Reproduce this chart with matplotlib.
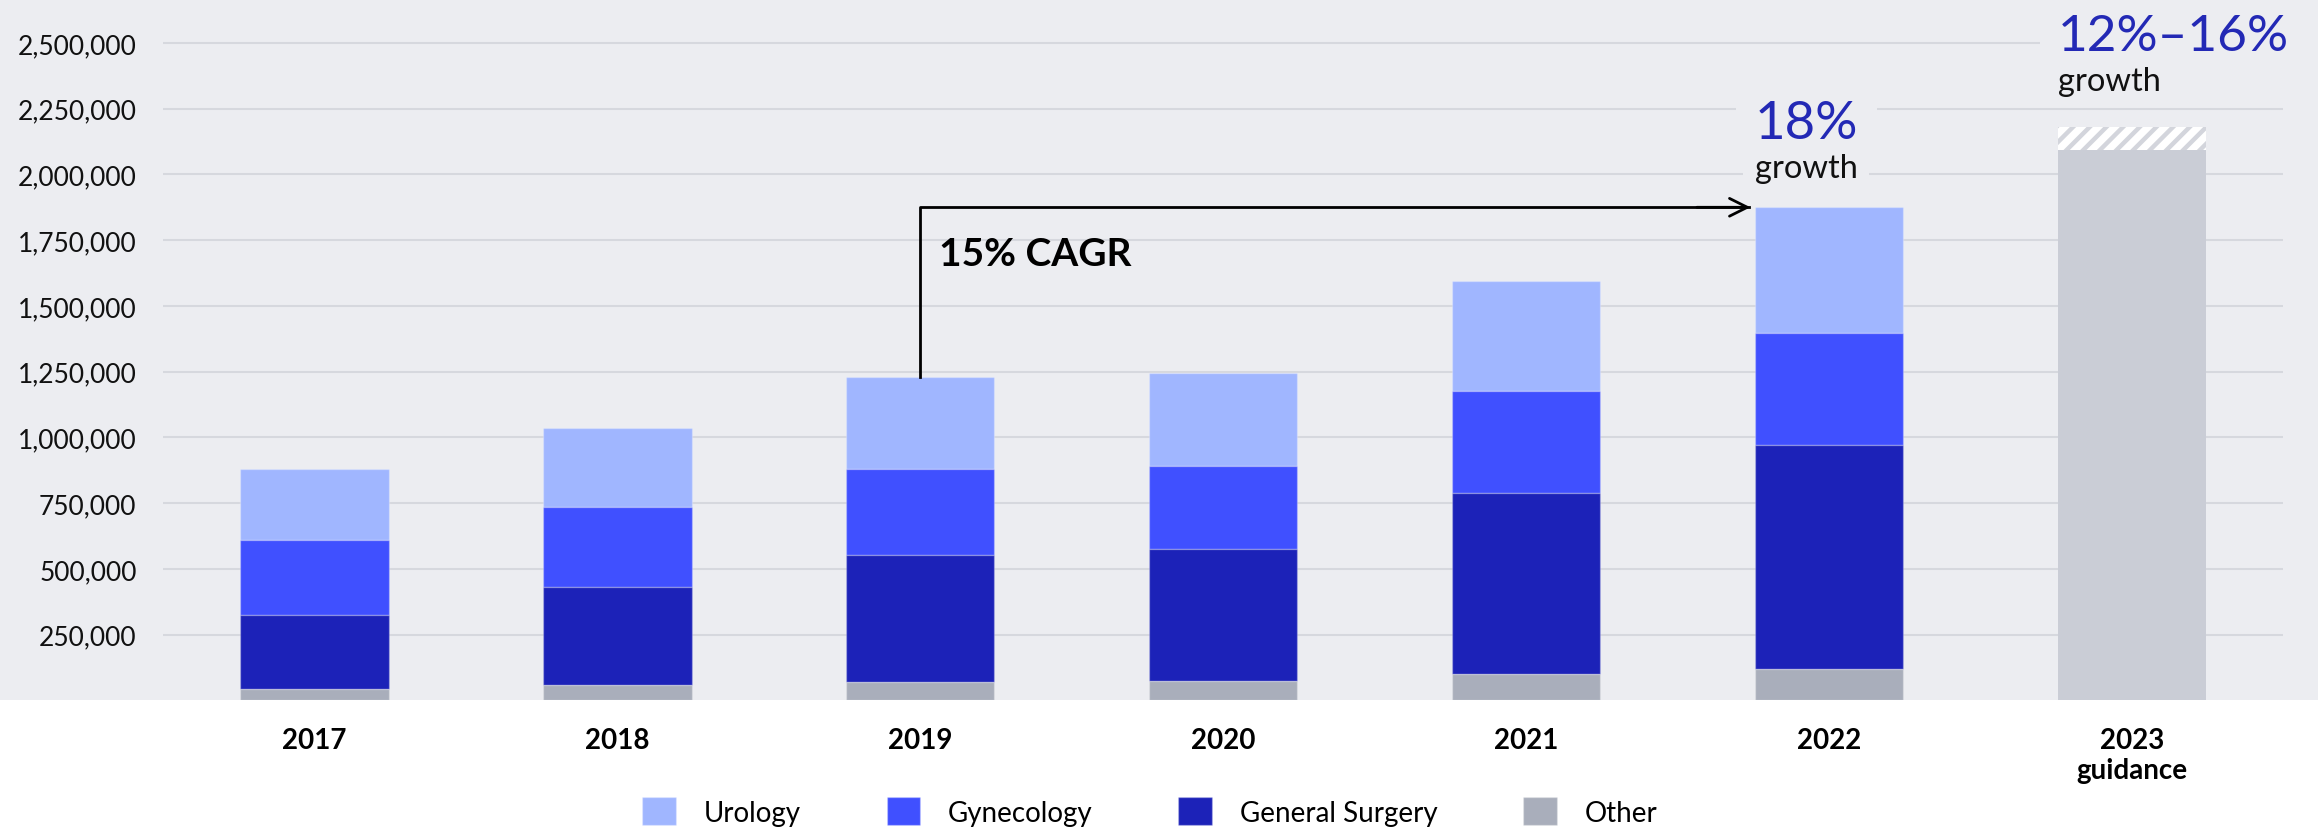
import matplotlib.pyplot as plt
import numpy as np
from matplotlib.patches import Rectangle

plt.rcParams['font.family'] = ['Lato', 'DejaVu Sans']
plt.rcParams['hatch.linewidth'] = 3.2

# procedures per year
years = ['2017', '2018', '2019', '2020', '2021', '2022', '2023\nguidance']
other = [45000, 58000, 70000, 72000, 102000, 118000]
general_surgery = [325000, 430000, 554000, 577000, 790000, 970000]
gynecology = [610000, 734000, 880000, 891000, 1178000, 1397000]
urology = [880000, 1037000, 1229000, 1245000, 1594000, 1875000]
guidance_low = 2093000
guidance_high = 2180000

bg = '#ECEDF1'
c_uro = '#A0B6FF'
c_gyn = '#4050FF'
c_gs = '#1C22B8'
c_other = '#A9AEBB'
c_guid = '#CACDD6'
c_blue = '#2329B5'

fig = plt.figure(figsize=(23.18, 8.28), dpi=100, facecolor='white')
fig.patches.append(Rectangle((0, 0.1529), 1, 1 - 0.1529, transform=fig.transFigure,
                             facecolor=bg, edgecolor='none', zorder=-10))
ax = fig.add_axes([0.0703, 0.1529, 0.985 - 0.0703, 0.8471])
ax.set_facecolor(bg)

x = np.arange(len(years))
w = 0.49
hist = x[:6]
edge = dict(edgecolor=(1, 1, 1, 0.25), linewidth=1)

gs = np.array(general_surgery)
gyn = np.array(gynecology)
uro = np.array(urology)
oth = np.array(other)

b_uro = ax.bar(hist, uro - gyn, w, bottom=gyn, color=c_uro, label='Urology', zorder=3, **edge)
b_gyn = ax.bar(hist, gyn - gs, w, bottom=gs, color=c_gyn, label='Gynecology', zorder=3, **edge)
b_gs = ax.bar(hist, gs - oth, w, bottom=oth, color=c_gs, label='General Surgery', zorder=3, **edge)
b_oth = ax.bar(hist, oth, w, color=c_other, label='Other', zorder=3, **edge)

# 2023 guidance bar
ax.bar(x[6], guidance_low, w, color=c_guid, zorder=3)
ax.bar(x[6], guidance_high - guidance_low, w, bottom=guidance_low, facecolor='white',
       edgecolor='#D3D5DC', hatch='//', linewidth=0, zorder=3)

ax.set_xlim(-0.5, 6.5)
ax.set_ylim(0, 2667000)
ticks = np.arange(250000, 2500001, 250000)
ax.set_yticks(ticks)
ax.set_yticklabels([f'{t:,}' for t in ticks], fontsize=19, color='#111111')
ax.set_xticks(x)
ax.set_xticklabels(years, fontsize=20, fontweight='bold', linespacing=1.2)
ax.tick_params(axis='y', length=0, pad=19)
ax.tick_params(axis='x', length=0, pad=19)
ax.grid(axis='y', color='#D6D8DE', linewidth=1.5, zorder=0)
for s in ax.spines.values():
    s.set_visible(False)

# CAGR arrow from 2019 to 2022
ax.plot([x[2], x[2], x[5] - w / 2 - 0.02], [uro[2], uro[5], uro[5]], color='black', lw=2, zorder=4)
ax.annotate('', xy=(x[5] - w / 2 - 0.005, uro[5]), xytext=(x[5] - w / 2 - 0.2, uro[5]),
            arrowprops=dict(arrowstyle='->', lw=2, color='black', mutation_scale=32), zorder=4)
ax.text(2.062, 1701000, '15% CAGR', fontsize=28, fontweight='bold', va='center', ha='left', zorder=5)

box = dict(boxstyle='square,pad=0.35', facecolor=bg, edgecolor='none')
ax.text(x[5] - w / 2, 2139000, '18%', color=c_blue, fontsize=38,
        ha='left', va='baseline', bbox=box, zorder=5)
ax.text(x[5] - w / 2, 1990000, 'growth', color='#111111', fontsize=23.5, ha='left', va='baseline',
        bbox=box, zorder=5)
ax.text(x[6] - w / 2, 2473000, '12%–16%', color=c_blue, fontsize=37,
        ha='left', va='baseline', bbox=box, zorder=5)
ax.text(x[6] - w / 2, 2321000, 'growth', color='#111111', fontsize=23.5, ha='left', va='baseline',
        bbox=box, zorder=5)

fig.legend(handles=[b_uro, b_gyn, b_gs, b_oth], loc='center', bbox_to_anchor=(0.496, 0.019),
           ncol=4, frameon=False, fontsize=20, handlelength=1.2, handleheight=1.2,
           handletextpad=1.0, columnspacing=3.1)

fig.savefig('out.png', dpi=100, facecolor=fig.get_facecolor())
